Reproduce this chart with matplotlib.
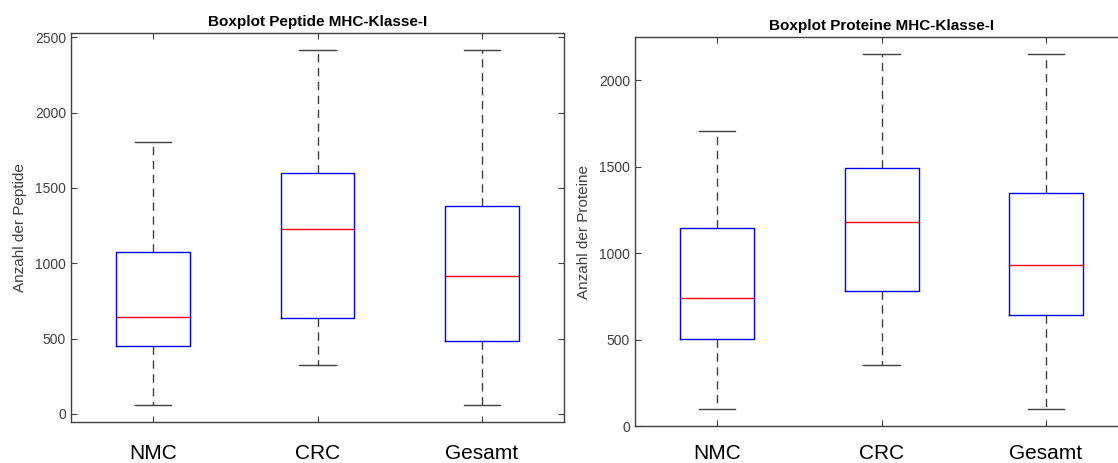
import matplotlib
matplotlib.use("Agg")
import matplotlib.pyplot as plt

plt.rcParams['font.family'] = ['Liberation Sans', 'DejaVu Sans']

categories = ["NMC", "CRC", "Gesamt"]

# Peptide (left): whislo, q1, median, q3, whishi
pep_whislo = [60, 325, 60]
pep_q1 = [451, 637, 484]
pep_med = [643, 1227, 915]
pep_q3 = [1074, 1598, 1379]
pep_whishi = [1804, 2414, 2414]

# Proteine (right)
pro_whislo = [98, 353, 98]
pro_q1 = [503, 780, 642]
pro_med = [740, 1179, 931]
pro_q3 = [1145, 1491, 1347]
pro_whishi = [1705, 2150, 2150]

pep_yticks = [0, 500, 1000, 1500, 2000, 2500]
pro_yticks = [0, 500, 1000, 1500, 2000]

fig = plt.figure(figsize=(11.18, 4.63), dpi=100)
ax1 = fig.add_axes([0.0635, 0.0886, 0.441, 0.840])
ax2 = fig.add_axes([0.568, 0.0799, 0.441, 0.840])

def make_stats(lo, q1, med, q3, hi):
    return [dict(whislo=a, q1=b, med=c, q3=d, whishi=e, fliers=[], label=lab)
            for a, b, c, d, e, lab in zip(lo, q1, med, q3, hi, categories)]

def draw(ax, stats, title, ylabel, ylim, yticks, xpad):
    ax.bxp(stats, positions=[1, 2, 3], widths=0.45, capwidths=0.22,
           showfliers=False,
           boxprops=dict(color='#0000ff', linewidth=1.0),
           medianprops=dict(color='#ff0000', linewidth=1.0),
           whiskerprops=dict(color='#404040', linewidth=1.0, linestyle=(0, (6, 4))),
           capprops=dict(color='#404040', linewidth=1.0))
    ax.set_xlim(0.5, 3.5)
    ax.set_ylim(*ylim)
    ax.set_yticks(yticks)
    ax.set_xticks([1, 2, 3])
    ax.set_xticklabels(categories, fontsize=15, color='black')
    ax.tick_params(axis='x', direction='in', pad=xpad, top=True, length=4, color='#404040')
    ax.tick_params(axis='y', direction='in', labelsize=10, labelcolor='#404040',
                   right=True, length=4, color='#404040')
    for s in ax.spines.values():
        s.set_color('#404040')
        s.set_linewidth(1.0)
    ax.set_title(title, fontsize=11, fontweight='bold', pad=5)
    ax.set_ylabel(ylabel, fontsize=11, color='#404040', labelpad=6)

draw(ax1, make_stats(pep_whislo, pep_q1, pep_med, pep_q3, pep_whishi),
     "Boxplot Peptide MHC-Klasse-I", "Anzahl der Peptide", (-53, 2527), pep_yticks, 16)
draw(ax2, make_stats(pro_whislo, pro_q1, pro_med, pro_q3, pro_whishi),
     "Boxplot Proteine MHC-Klasse-I", "Anzahl der Proteine", (0, 2250), pro_yticks, 13)

fig.savefig("out.png", dpi=100)
